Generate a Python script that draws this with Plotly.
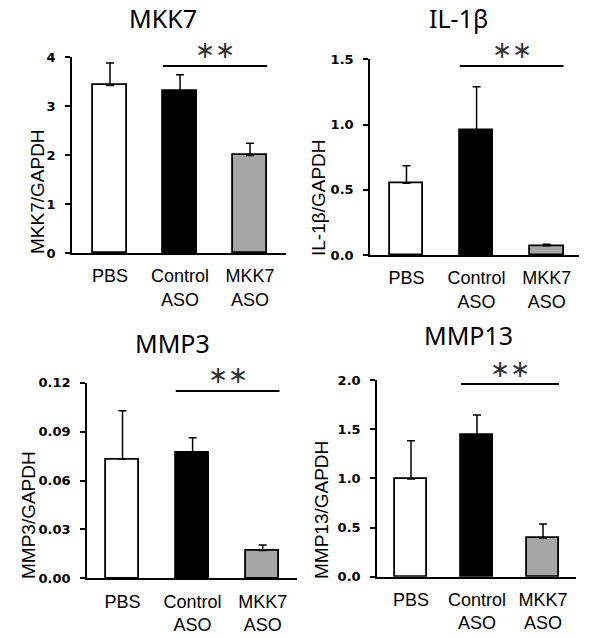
import plotly.graph_objects as go

W, H = 600, 638

categories = ["PBS", "Control<br>ASO", "MKK7<br>ASO"]
bar_colors = ["#ffffff", "#000000", "#a6a6a6"]

titles = ["MKK7", "IL-1β", "MMP3", "MMP13"]
ytitles = ["MKK7/GAPDH", "IL-1β/GAPDH", "MMP3/GAPDH", "MMP13/GAPDH"]

mkk7_mean = [3.42, 3.31, 1.99]
mkk7_err = [0.46, 0.33, 0.25]
il1b_mean = [0.55, 0.955, 0.07]
il1b_err = [0.135, 0.335, 0.012]
mmp3_mean = [0.073, 0.077, 0.017]
mmp3_err = [0.0298, 0.0093, 0.0035]
mmp13_mean = [0.993, 1.44, 0.393]
mmp13_err = [0.39, 0.204, 0.142]

y_max = [4, 1.5, 0.12, 2.0]
y_dtick = [1, 0.5, 0.03, 0.5]
y_fmt = [".0f", ".1f", ".2f", ".1f"]

means = [mkk7_mean, il1b_mean, mmp3_mean, mmp13_mean]
errs = [mkk7_err, il1b_err, mmp3_err, mmp13_err]

# layout geometry in pixels
panels = [
    dict(x=(72, 286), y=(57, 253), xr=(-0.543, 2.514), title=(163, 18), ytit=(37, 192), sig=66, star=50, bw=0.49),
    dict(x=(370, 579), y=(59.3, 255), xr=(-0.52, 2.46), title=(458, 18), ytit=(319, 198), sig=66, star=50, bw=0.48),
    dict(x=(87, 297), y=(382.7, 578.3), xr=(-0.507, 2.49), title=(172, 343), ytit=(28, 515), sig=391, star=375, bw=0.48),
    dict(x=(377, 576), y=(380, 576.7), xr=(-0.515, 2.5), title=(468, 335), ytit=(322, 510), sig=384, star=369, bw=0.485),
]


def px(x):
    return x / W


def py(y):
    return 1 - y / H


fig = go.Figure()
annotations = []
shapes = []
xpos = [0, 1, 2]

for i, p in enumerate(panels):
    n = "" if i == 0 else str(i + 1)
    fig.add_trace(go.Bar(
        x=xpos, y=means[i], width=p["bw"],
        marker=dict(color=bar_colors, line=dict(color="black", width=1.8)),
        error_y=dict(type="data", array=errs[i], arrayminus=[0, 0, 0], symmetric=False,
                     color="black", thickness=1.5, width=4),
        xaxis="x" + n, yaxis="y" + n, showlegend=False, hoverinfo="skip",
    ))
    fig.layout["xaxis" + n] = dict(
        domain=[px(p["x"][0]), px(p["x"][1])], range=list(p["xr"]), anchor="y" + n,
        tickmode="array", tickvals=xpos, ticktext=categories, showgrid=False,
        showline=True, linecolor="black", linewidth=1.5, ticks="", zeroline=False,
        tickfont=dict(family="Liberation Sans, Arial", size=18, color="black"),
        ticklabelstandoff=6, fixedrange=True, automargin=False,
    )
    fig.layout["yaxis" + n] = dict(
        domain=[py(p["y"][1]), py(p["y"][0])], range=[0, y_max[i]], anchor="x" + n,
        dtick=y_dtick[i], tick0=0, tickformat=y_fmt[i], showgrid=False, zeroline=False,
        showline=True, linecolor="black", linewidth=1.5, ticks="outside", ticklen=5,
        tickwidth=1.5, tickcolor="black",
        tickfont=dict(family="DejaVu Sans", size=13, color="black", weight="bold"),
        ticklabelstandoff=7, fixedrange=True, automargin=False,
    )
    annotations.append(dict(
        text=titles[i], x=px(p["title"][0]), y=py(p["title"][1]), xref="paper", yref="paper",
        showarrow=False, xanchor="center", yanchor="middle",
        font=dict(family="Noto Sans", size=25, color="black"),
    ))
    annotations.append(dict(
        text=ytitles[i], x=px(p["ytit"][0]), y=py(p["ytit"][1]), xref="paper", yref="paper",
        showarrow=False, xanchor="center", yanchor="middle", textangle=-90,
        font=dict(family="Liberation Sans, Arial", size=19, color="black"),
    ))
    bw = p["bw"]
    shapes.append(dict(
        type="line", xref="x" + n, yref="paper", x0=1 - bw / 2, x1=2 + bw / 2,
        y0=py(p["sig"]), y1=py(p["sig"]), line=dict(color="black", width=1.8),
    ))
    annotations.append(dict(
        text="∗∗", x=1.5, y=py(p["star"]), xref="x" + n, yref="paper",
        showarrow=False, xanchor="center", yanchor="middle",
        font=dict(family="DejaVu Sans", size=24, color="#333333"),
    ))

fig.update_layout(
    width=W, height=H, margin=dict(l=0, r=0, t=0, b=0),
    paper_bgcolor="white", plot_bgcolor="white",
    annotations=annotations, shapes=shapes, bargap=0,
)

fig.write_html("out.html", config={"displayModeBar": False},
               post_script="document.body.style.margin='0';")
